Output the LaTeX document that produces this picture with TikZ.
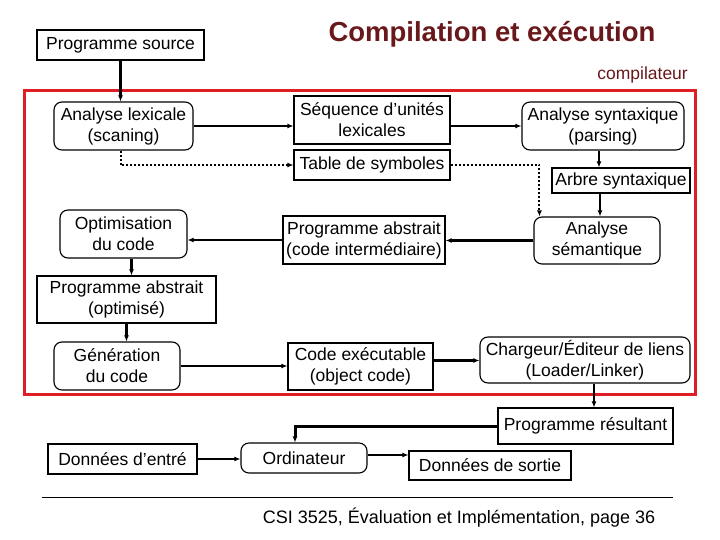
\documentclass[tikz,border=0pt]{standalone}
\usepackage{fontspec}
\setmainfont{Liberation Sans}
\usetikzlibrary{arrows.meta}
\definecolor{titlered}{RGB}{105,25,28}
\definecolor{framered}{RGB}{222,30,36}
\newcommand\boxfont{\fontsize{17.5}{21}\selectfont}
\begin{document}
\begin{tikzpicture}[x=1pt,y=-1pt,every node/.style={font=\boxfont,align=center,inner sep=0pt},
  box/.style={draw,line width=1.1pt,minimum width=#1},
  rbox/.style={draw,line width=1.1pt,rounded corners=8pt,minimum width=#1},
  arr/.style={line width=2.1pt,-{Latex[length=6pt,width=5pt]}},
  dotarr/.style={line width=2pt,dotted,-{Latex[length=6pt,width=5pt]}}]
\useasboundingbox[fill=white] (0,0) rectangle (720,540);
% title
\node[font=\fontsize{27.5}{30}\selectfont\bfseries,text=titlered] (title) at (492,34) {Compilation et exécution};
\node[font=\fontsize{17.5}{20}\selectfont,text=titlered,anchor=east] (comp) at (688,75) {compilateur};
\draw[framered,line width=3pt] (24,91) rectangle (695,394);
% compiler part
\node[box=167,minimum height=30] (src) at (120.5,45) {Programme source};
\node[rbox=139,minimum height=48] (lex) at (123.5,126) {Analyse lexicale\\(scaning)};
\node[box=156,minimum height=48] (seq) at (372,120) {Séquence d’unités\\lexicales};
\node[box=156,minimum height=30] (tab) at (372,165) {Table de symboles};
\node[rbox=162,minimum height=48] (syn) at (603,126) {Analyse syntaxique\\(parsing)};
\node[box=138,minimum height=25] (arb) at (621,180.5) {Arbre syntaxique};
\node[rbox=126,minimum height=47] (sem) at (597,240.5) {Analyse\\sémantique};
\node[box=162,minimum height=48] (pai) at (364,240) {Programme abstrait\\(code intermédiaire)};
\node[rbox=127,minimum height=48] (opt) at (123.5,234) {Optimisation\\du code};
\node[box=179,minimum height=47] (pao) at (126.5,299.5) {Programme abstrait\\(optimisé)};
\node[rbox=126,minimum height=48] (gen) at (117,366) {Génération\\du code};
\node[box=145,minimum height=47] (exe) at (360.5,366.5) {Code exécutable\\(object code)};
\node[rbox=210,minimum height=46] (chg) at (585,360) {Chargeur/Éditeur de liens\\(Loader/Linker)};
% execution part
\node[box=175,minimum height=36] (res) at (585.5,426) {Programme résultant};
\node[box=149,minimum height=30] (ent) at (122.5,459) {Données d’entré};
\node[rbox=126,minimum height=30] (ord) at (304,458) {Ordinateur};
\node[box=162,minimum height=29] (sor) at (490,465.5) {Données de sortie};
% connectors
\draw[arr] (src.south) -- (src.south |- lex.north);
\draw[arr] (lex.east) -- (lex.east -| seq.west);
\draw[dotarr] ([xshift=-3pt]lex.south) |- (tab.west);
\draw[arr] (syn.west -| seq.east) -- (syn.west);
\draw[dotarr] (tab.east) -| ([xshift=6pt]sem.north west);
\draw[arr] ([xshift=-4pt]syn.south) -- ([xshift=-4pt]syn.south |- arb.north);
\draw[arr] ([xshift=3pt]sem.north |- arb.south) -- ([xshift=3pt]sem.north);
\draw[arr] (sem.west) -- (sem.west -| pai.east);
\draw[arr] (pai.west) -- (pai.west -| opt.east);
\draw[arr] ([xshift=8pt]opt.south) -- ([xshift=8pt]opt.south |- pao.north);
\draw[arr] (pao.south) -- (pao.south |- gen.north);
\draw[arr] (gen.east) -- (gen.east -| exe.west);
\draw[arr] ([yshift=6pt]exe.east) -- ([yshift=6pt]exe.east -| chg.west);
\draw[arr] ([xshift=9pt]chg.south) -- ([xshift=9pt]chg.south |- res.north);
\draw[line width=3pt,-{Latex[length=6pt,width=5pt]}] (res.west) -| ([xshift=-9pt]ord.north);
\draw[arr] (ent.east) -- (ent.east -| ord.west);
\draw[arr] ([yshift=3pt]ord.east) -- ([yshift=3pt]ord.east -| sor.west);
% footer
\draw[line width=1pt] (42,497) coordinate (fl) -- (673,497) coordinate (fr);
\node[font=\fontsize{18}{20}\selectfont] (foot) at (459,518) {CSI 3525, Évaluation et Implémentation, page 36};
\end{tikzpicture}
\end{document}
